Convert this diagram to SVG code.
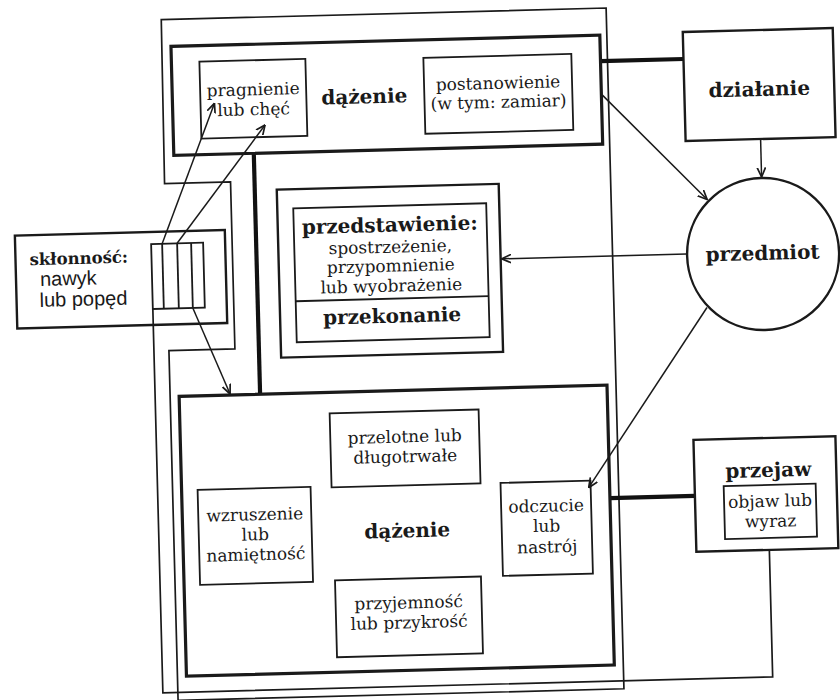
<svg xmlns="http://www.w3.org/2000/svg" width="840" height="700" viewBox="0 0 840 700">
  <defs>
    <style>
      .ln { fill: none; stroke: #1a1a1a; stroke-width: 1.7; }
      .box { fill: none; stroke: #1a1a1a; stroke-width: 1.8; }
      .heavy { fill: none; stroke: #1a1a1a; stroke-width: 3.2; }
      .mid { fill: none; stroke: #1a1a1a; stroke-width: 2.4; }
      .bar { fill: none; stroke: #111; stroke-width: 4.2; }
      .arrow { fill: none; stroke: #1a1a1a; stroke-width: 1.5; marker-end: url(#head); }
      text { fill: #1a1a1a; font-family: "DejaVu Serif", "Liberation Serif", serif; font-size: 17px; }
      .c { text-anchor: middle; }
      .b { font-weight: bold; font-size: 20px; }
      .sans { font-family: "Liberation Sans", Arial, sans-serif; font-size: 20px; }
    </style>
    <marker id="head" viewBox="0 0 10 10" refX="9.5" refY="5" markerWidth="10" markerHeight="10" markerUnits="userSpaceOnUse" orient="auto">
      <path d="M0,0.8 L9.5,5 L0,9.2" fill="none" stroke="#1a1a1a" stroke-width="1.7"/>
    </marker>
  </defs>
  <rect width="840" height="700" fill="#fff"/>

  <!-- the whole sheet sits slightly tilted -->
  <g transform="rotate(-1.5 420 350)">

    <!-- outer frame with a notch for the disposition box -->
    <path id="frame" class="ln" d="M170,13 L615,13 L615,694 L169,694 L169,344 L235,344 L235,177 L169,177 Z"/>

    <g id="connectors">
      <line class="bar" x1="608" y1="66" x2="691" y2="66"/>
      <line class="bar" x1="259" y1="149" x2="259" y2="390"/>
      <line class="bar" x1="606" y1="503" x2="691" y2="503"/>
      <path class="ln" d="M764,559 L764,686 L154,686 L154,302"/>
      <line class="arrow" x1="766" y1="148" x2="766" y2="186"/>
      <line class="arrow" x1="609" y1="100" x2="711" y2="207"/>
      <line class="arrow" x1="689" y1="261" x2="504" y2="261"/>
      <line class="arrow" x1="708" y1="315" x2="585" y2="492"/>
      <line class="arrow" x1="165" y1="237" x2="221" y2="98"/>
      <line class="arrow" x1="180" y1="237" x2="271" y2="121"/>
      <line class="arrow" x1="194" y1="302" x2="229" y2="389"/>
    </g>

    <g id="dazenie-gora">
      <rect class="heavy" x="179" y="40" width="429" height="109"/>
      <text class="c b" x="371" y="102">dążenie</text>
    </g>

    <g id="pragnienie">
      <rect class="box" x="207" y="56" width="106" height="77"/>
      <text class="c" x="260" y="91">pragnienie</text>
      <text class="c" x="260" y="111">lub chęć</text>
    </g>

    <g id="postanowienie">
      <rect class="box" x="431" y="58" width="148" height="76"/>
      <text class="c" x="505" y="91">postanowienie</text>
      <text class="c" x="505" y="110">(w tym: zamiar)</text>
    </g>

    <g id="dzialanie">
      <rect class="mid" x="691" y="39" width="150" height="109"/>
      <text class="c b" x="766" y="105">działanie</text>
    </g>

    <g id="przedmiot">
      <circle class="mid" cx="765.5" cy="263" r="76"/>
      <text class="c b" x="765" y="269">przedmiot</text>
    </g>

    <g id="przedstawienie">
      <rect class="mid" x="281" y="186" width="222" height="168"/>
      <rect class="box" x="297" y="205" width="193" height="134"/>
      <line class="box" x1="297" y1="298" x2="490" y2="298"/>
      <text class="c b" x="393" y="231">przedstawienie:</text>
      <text class="c" x="393" y="252">spostrzeżenie,</text>
      <text class="c" x="393" y="271">przypomnienie</text>
      <text class="c" x="393" y="291">lub wyobrażenie</text>
      <text class="c b" x="393" y="322">przekonanie</text>
    </g>

    <g id="sklonnosc">
      <rect class="mid" x="18" y="225" width="210" height="93" fill="#fff"/>
      <rect class="box" x="154" y="237" width="52" height="65"/>
      <line class="box" x1="165" y1="237" x2="165" y2="302"/>
      <line class="box" x1="180" y1="237" x2="180" y2="302"/>
      <line class="box" x1="194" y1="237" x2="194" y2="302"/>
      <text class="b" x="32" y="255" style="font-size:16.5px">skłonność:</text>
      <text class="sans" x="42" y="276">nawyk</text>
      <text class="sans" x="41" y="297">lub popęd</text>
    </g>

    <g id="dazenie-dol">
      <rect class="heavy" x="178" y="390" width="428" height="280"/>
      <text class="c b" x="402.5" y="537">dążenie</text>
    </g>

    <g id="przelotne">
      <rect class="box" x="328" y="411" width="149" height="74"/>
      <text class="c" x="402.5" y="442">przelotne lub</text>
      <text class="c" x="402.5" y="462">długotrwałe</text>
    </g>

    <g id="wzruszenie">
      <rect class="box" x="194" y="484" width="113" height="95"/>
      <text class="c" x="250.5" y="516">wzruszenie</text>
      <text class="c" x="250.5" y="536">lub</text>
      <text class="c" x="250.5" y="556">namiętność</text>
    </g>

    <g id="odczucie">
      <rect class="box" x="497" y="485" width="90" height="93"/>
      <text class="c" x="542" y="515">odczucie</text>
      <text class="c" x="542" y="535">lub</text>
      <text class="c" x="542" y="556">nastrój</text>
    </g>

    <g id="przyjemnosc">
      <rect class="box" x="329" y="578" width="146" height="77"/>
      <text class="c" x="402" y="608">przyjemność</text>
      <text class="c" x="402" y="628">lub przykrość</text>
    </g>

    <g id="przejaw">
      <rect class="mid" x="691" y="447" width="142" height="112"/>
      <text class="c b" x="765" y="486">przejaw</text>
      <rect class="box" x="720" y="494" width="92" height="53"/>
      <text class="c" x="766" y="516">objaw lub</text>
      <text class="c" x="766" y="536">wyraz</text>
    </g>
  </g>
</svg>
